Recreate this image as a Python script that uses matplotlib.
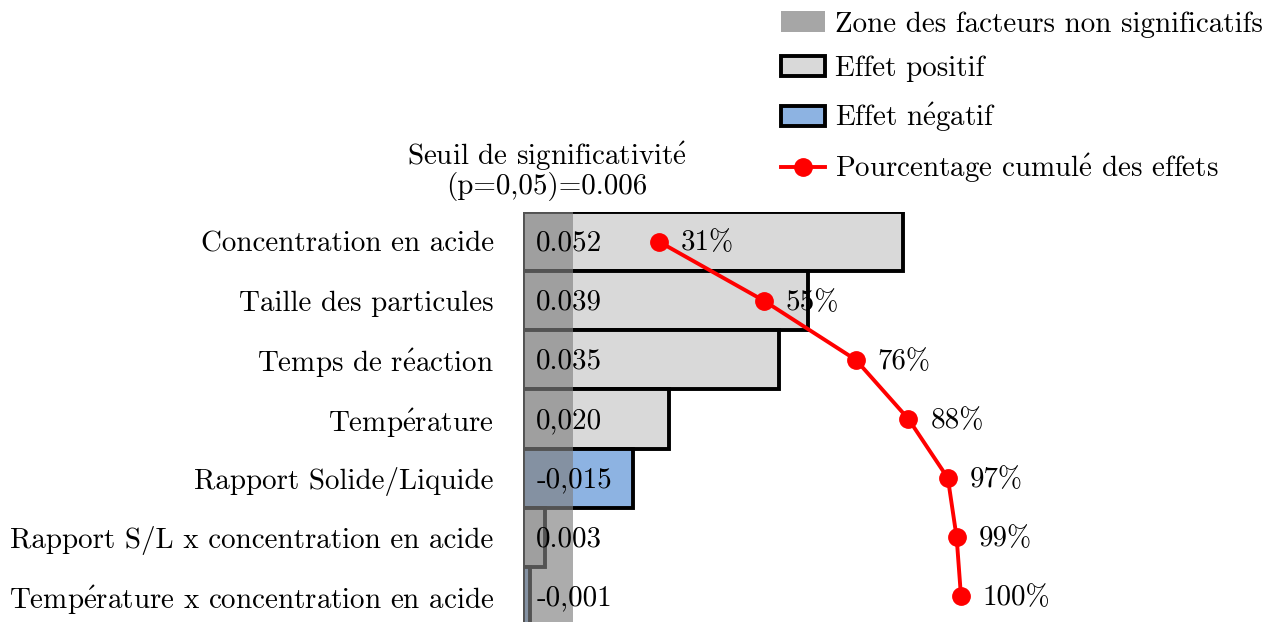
import matplotlib
matplotlib.use("Agg")
import matplotlib.pyplot as plt
from matplotlib.patches import Patch
from matplotlib.lines import Line2D

plt.rcParams['font.family'] = ['cmr10', 'DejaVu Serif']
plt.rcParams['mathtext.fontset'] = 'cm'
plt.rcParams['axes.unicode_minus'] = False

E = r"$\mathrm{\acute{e}}$"  # é drawn in Computer Modern

factors = ["Concentration en acide", "Taille des particules", f"Temps de r{E}action",
           f"Temp{E}rature", "Rapport Solide/Liquide",
           "Rapport S/L x concentration en acide", f"Temp{E}rature x concentration en acide"]
effects = [0.052, 0.039, 0.035, 0.020, -0.015, 0.003, -0.001]
effect_labels = ["0.052", "0.039", "0.035", "0,020", "-0,015", "0.003", "-0,001"]
cum_pct = [31, 55, 76, 88, 97, 99, 100]
threshold = 0.0068
threshold_text = f"Seuil de significativit{E}\n(p=0,05)=0.006"

FS = 20.9
pos_color = "#d9d9d9"
neg_color = "#8db3e2"

fig = plt.figure(figsize=(12.74, 6.22), dpi=100)
ax = fig.add_axes([523 / 1274, -4 / 622, 731 / 1274, 414 / 622])

y = list(range(len(factors)))
colors = [pos_color if e > 0 else neg_color for e in effects]
ax.barh(y, [abs(e) for e in effects], height=1.0, color=colors,
        edgecolor="black", linewidth=2.8, zorder=2)
ax.axvspan(0, threshold, color="#808080", alpha=0.65, lw=0, zorder=3)

for yi, lab in zip(y, effect_labels):
    ax.text(0.0018, yi + 0.03, lab, ha="left", va="center", fontsize=FS, zorder=5)

ax.set_xlim(0, 0.1)
ax.set_ylim(len(factors) - 0.5, -0.5)
ax.set_yticks(y, factors, fontsize=FS)
ax.tick_params(axis="y", length=0, pad=21)
ax.set_xticks([])
for s in ax.spines.values():
    s.set_visible(False)

ax.text(threshold / 2 - 0.0001, -0.68, threshold_text, ha="center", va="bottom",
        fontsize=FS, linespacing=0.95)

ax2 = ax.twiny()
ax2.set_xlim(0, 100 * 731 / 438)
ax2.set_ylim(ax.get_ylim())
ax2.plot(cum_pct, y, color="red", lw=2.8, marker="o", ms=12.5, zorder=6)
for yi, p in zip(y, cum_pct):
    ax2.text(p + 5, yi + 0.03, f"{p}%", ha="left", va="center", fontsize=FS, zorder=7)
ax2.set_xticks([])
for s in ax2.spines.values():
    s.set_visible(False)

handles = [
    Patch(facecolor="#a6a6a6", edgecolor="none", label="Zone des facteurs non significatifs"),
    Patch(facecolor=pos_color, edgecolor="black", linewidth=2.8, label="Effet positif"),
    Patch(facecolor=neg_color, edgecolor="black", linewidth=2.8, label=f"Effet n{E}gatif"),
    Line2D([], [], color="red", lw=2.8, marker="o", ms=12.5,
           label=f"Pourcentage cumul{E} des effets"),
]
fig.legend(handles=handles, loc="upper right", bbox_to_anchor=(1.005, 1.01),
           frameon=False, fontsize=FS, labelspacing=0.63, handlelength=1.5,
           handletextpad=0.35, borderaxespad=0.2)

fig.savefig("out.png", dpi=100)
